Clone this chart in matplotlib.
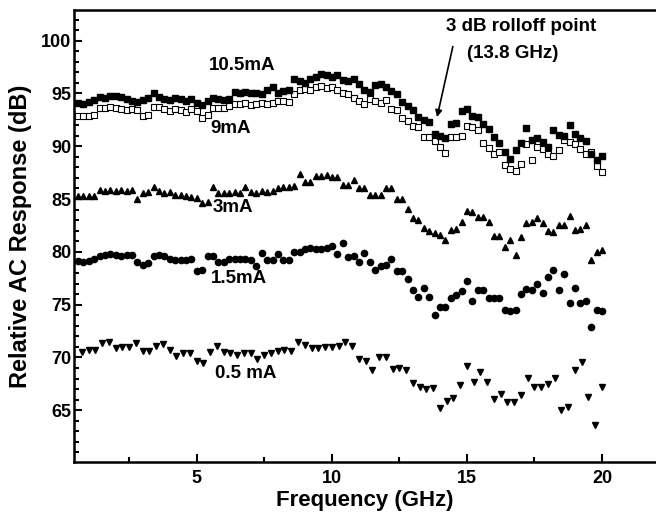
import numpy as np
import matplotlib
matplotlib.use('Agg')
import matplotlib.pyplot as plt
from matplotlib.ticker import MultipleLocator

plt.rcParams['font.family'] = ['Liberation Sans', 'DejaVu Sans']
plt.rcParams['font.weight'] = 'bold'

# frequency grid (GHz), 0.2 GHz sweep for the upper four curves
freq = np.round(np.arange(0.6, 20.01, 0.2), 2)

# 10.5 mA, filled squares
i105 = [94.1, 94.0, 94.2, 94.4, 94.7, 94.6, 94.8, 94.8, 94.7, 94.5,
        94.3, 94.2, 94.4, 94.6, 95.0, 94.7, 94.5, 94.4, 94.6, 94.5,
        94.3, 94.5, 94.1, 93.9, 94.3, 94.6, 94.5, 94.4, 94.5, 95.1,
        95.0, 95.1, 95.0, 95.0, 94.9, 95.3, 95.6, 95.0, 95.2, 95.3,
        96.4, 96.2, 96.0, 96.4, 96.6, 96.8, 96.7, 96.6, 96.7, 96.3,
        96.2, 96.4, 95.9, 95.3, 95.1, 95.8, 95.9, 95.6, 95.2, 94.9,
        94.2, 93.8, 93.4, 92.8, 92.5, 92.3, 91.2, 91.0, 90.8, 92.1,
        92.2, 93.3, 93.5, 92.9, 92.8, 92.1, 91.6, 90.9, 90.3, 89.5,
        88.8, 89.6, 90.3, 91.7, 90.6, 90.8, 90.4, 89.9, 91.5, 91.1,
        91.0, 92.0, 91.2, 90.8, 90.5, 89.3, 88.7, 89.1]

# 9 mA, open squares
i9 = [92.9, 92.9, 92.9, 93.0, 93.6, 93.6, 93.7, 93.6, 93.5, 93.4,
      93.5, 93.4, 92.9, 93.0, 93.7, 93.7, 93.5, 93.3, 93.5, 93.4,
      93.2, 93.5, 93.3, 92.7, 93.0, 93.6, 93.6, 93.6, 93.8, 94.0,
      94.0, 94.1, 93.9, 94.0, 94.1, 94.0, 94.1, 94.3, 94.3, 94.2,
      94.9, 95.3, 95.4, 95.3, 95.6, 95.7, 95.5, 95.6, 95.3, 95.0,
      94.9, 94.6, 94.3, 94.0, 94.5, 94.3, 94.1, 94.4, 93.5, 93.4,
      92.7, 92.4, 91.9, 91.8, 90.9, 90.9, 90.5, 89.9, 89.4, 90.9,
      90.9, 91.0, 91.9, 91.8, 91.5, 90.3, 89.8, 89.3, 89.5, 88.2,
      87.8, 87.7, 88.3, 90.2, 88.7, 89.9, 89.7, 89.3, 89.1, 89.6,
      90.6, 90.4, 90.2, 89.7, 89.3, 89.5, 88.1, 87.6]

# 3 mA, up triangles
i3 = [85.3, 85.3, 85.3, 85.3, 85.9, 85.8, 85.9, 85.8, 85.9, 85.8,
      85.9, 85.0, 85.6, 85.7, 86.1, 85.8, 85.6, 85.7, 85.4, 85.4,
      85.3, 85.2, 85.1, 84.6, 84.7, 86.1, 85.6, 85.6, 85.6, 85.7,
      85.6, 86.1, 85.7, 85.6, 85.8, 85.7, 85.8, 86.0, 86.1, 86.1,
      86.2, 87.4, 86.6, 86.6, 87.2, 87.2, 87.3, 87.1, 87.1, 86.3,
      86.3, 86.8, 86.0, 86.0, 85.4, 85.4, 85.4, 86.0, 86.0, 85.0,
      85.0, 84.1, 83.2, 83.0, 82.3, 82.0, 81.8, 81.6, 81.1, 82.1,
      82.2, 82.8, 83.9, 83.8, 83.3, 83.3, 82.8, 81.5, 81.5, 80.5,
      81.1, 79.7, 81.4, 82.7, 82.8, 83.2, 82.7, 82.0, 81.9, 82.5,
      82.5, 83.4, 82.1, 82.2, 82.5, 79.2, 80.0, 80.2]

# 1.5 mA, circles
i15 = [79.1, 79.0, 79.1, 79.3, 79.6, 79.7, 79.8, 79.7, 79.6, 79.7,
       79.7, 79.0, 78.8, 78.9, 79.6, 79.7, 79.6, 79.3, 79.2, 79.2,
       79.2, 79.3, 78.2, 78.3, 79.6, 79.6, 79.0, 79.0, 79.3, 79.3,
       79.3, 79.3, 79.2, 78.7, 79.9, 79.2, 79.2, 79.8, 79.2, 79.2,
       80.0, 80.0, 80.3, 80.4, 80.3, 80.3, 80.4, 80.6, 79.8, 80.8,
       79.5, 79.6, 79.0, 79.9, 79.0, 78.3, 78.7, 78.8, 79.3, 78.2,
       78.2, 77.4, 76.4, 75.7, 76.6, 75.7, 74.0, 74.8, 74.8, 75.6,
       75.9, 76.3, 77.2, 75.3, 76.4, 76.4, 75.6, 75.6, 75.6, 74.5,
       74.4, 74.5, 76.0, 76.5, 76.4, 77.0, 76.1, 77.6, 78.3, 76.4,
       77.9, 75.2, 76.6, 75.2, 75.3, 72.9, 74.5, 74.4]

# 0.5 mA, down triangles (0.25 GHz sweep)
i05 = [70.5, 70.7, 70.7, 71.4, 71.5, 70.9, 71.0, 71.0, 71.4, 70.6,
       70.6, 71.1, 71.3, 70.7, 70.1, 70.4, 70.4, 69.7, 69.5, 70.5,
       71.1, 70.5, 70.4, 70.2, 70.4, 70.4, 69.9, 70.2, 70.4, 70.6,
       70.7, 70.6, 71.5, 71.2, 70.9, 70.9, 71.0, 71.0, 71.1, 71.5,
       71.1, 69.9, 69.7, 68.8, 70.0, 70.0, 68.9, 69.0, 68.8, 67.6,
       67.2, 67.0, 67.1, 65.2, 65.9, 66.2, 67.4, 69.2, 67.7, 68.6,
       67.7, 66.1, 66.5, 65.8, 65.8, 66.4, 68.1, 67.2, 67.2, 67.5,
       68.1, 65.0, 65.3, 68.8, 69.6, 66.3, 63.6, 67.2]
freq05 = np.linspace(0.74, 20.0, len(i05))

fig = plt.figure(figsize=(6.56, 5.16), dpi=100)
ax = fig.add_axes([74/656, 54/516, 582/656, 452/516])

ax.plot(freq, i9, 's', ms=4, mfc='white', mec='black', mew=0.8, ls='none')
ax.plot(freq, i105, 's', ms=4, color='black', ls='none')
ax.plot(freq, i3, '^', ms=5, color='black', ls='none')
ax.plot(freq, i15, 'o', ms=4.5, color='black', ls='none')
ax.plot(freq05, i05, 'v', ms=5, color='black', ls='none')

ax.set_xlim(0.45, 22.0)
ax.set_ylim(60.1, 102.9)
ax.xaxis.set_major_locator(MultipleLocator(5))
ax.xaxis.set_minor_locator(MultipleLocator(2.5))
ax.yaxis.set_major_locator(MultipleLocator(5))
ax.yaxis.set_minor_locator(MultipleLocator(1))
ax.tick_params(which='both', direction='in', width=1.5, labelsize=13)
ax.tick_params(which='major', length=6)
ax.tick_params(which='minor', length=3.5)
ax.tick_params(axis='y', pad=2)
ax.tick_params(axis='x', pad=6)
for s in ['left', 'bottom', 'top']:
    ax.spines[s].set_linewidth(1.8)
ax.spines['right'].set_visible(False)

ax.set_xlabel('Frequency (GHz)', fontsize=16, fontweight='bold')
ax.set_ylabel('Relative AC Response (dB)', fontsize=17, fontweight='bold')
ax.xaxis.set_label_coords(0.5, -0.062)
ax.yaxis.set_label_coords(-0.072, 0.5)

lab = dict(fontsize=13.5, fontweight='bold', ha='center', va='center')
ax.text(6.68, 97.6, '10.5mA', **lab)
ax.text(6.24, 91.7, '9mA', **lab)
ax.text(6.32, 84.2, '3mA', **lab)
ax.text(6.57, 77.5, '1.5mA', **lab)
ax.text(6.79, 68.5, '0.5 mA', **lab)

ax.text(17.0, 101.3, '3 dB rolloff point', **lab)
ax.text(16.7, 98.8, '(13.8 GHz)', **lab)
ax.annotate('', xy=(13.87, 92.5), xytext=(14.5, 99.7),
            arrowprops=dict(arrowstyle='-|>', color='black', lw=1.2, mutation_scale=10))

fig.savefig('out.png', dpi=100)
